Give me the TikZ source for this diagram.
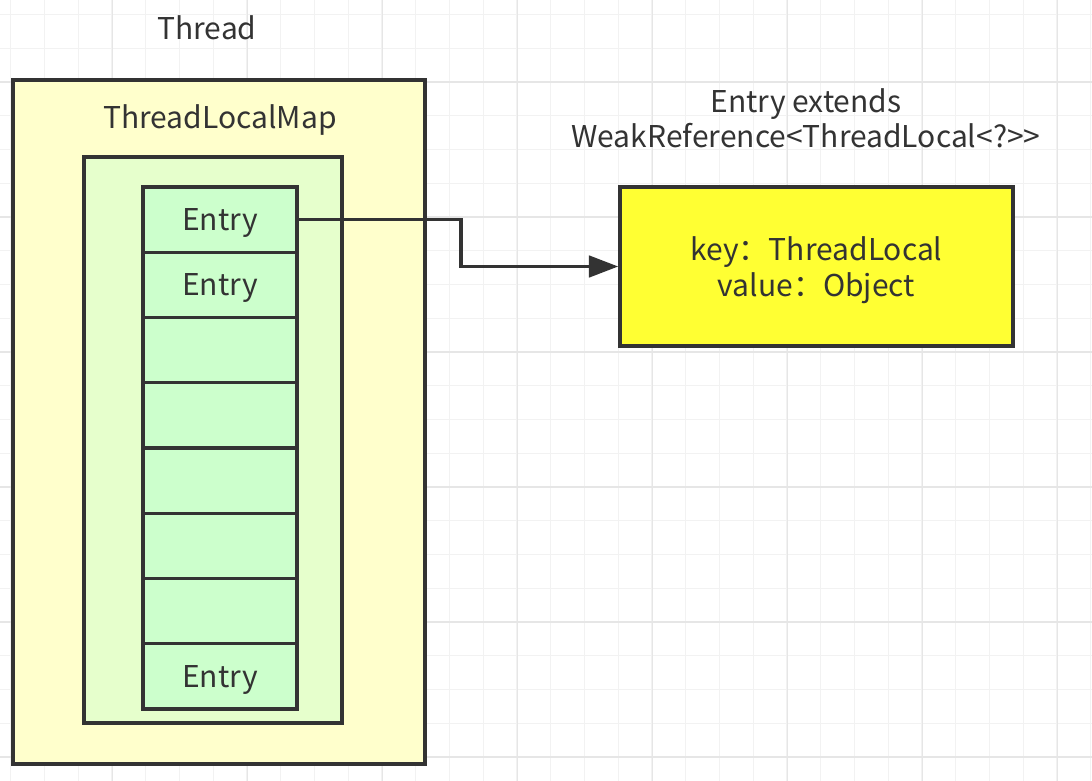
\documentclass[tikz,border=0pt]{standalone}
\usepackage{fontspec}
\setmainfont{Noto Sans CJK SC}
\usetikzlibrary{arrows.meta}

\definecolor{ink}{HTML}{333333}
\definecolor{gridminor}{HTML}{F2F2F2}
\definecolor{gridmajor}{HTML}{E6E6E6}
\definecolor{threadfill}{HTML}{FFFFCC}
\definecolor{mapfill}{HTML}{E6FFCC}
\definecolor{entryfill}{HTML}{CCFFCC}
\definecolor{objfill}{HTML}{FFFF33}

\tikzset{
  box/.style={draw=ink, line width=2.6pt, rectangle, inner sep=0pt, text depth=0pt},
  entrybox/.style={box, fill=entryfill, minimum width=115.5pt, minimum height=48.94pt},
  caption/.style={text=ink, font=\fontsize{22.5}{26.5}\selectfont},
  link/.style={draw=ink, line width=2.8pt, -{Triangle[length=22pt, width=16pt]}}
}

\begin{document}
\begin{tikzpicture}[x=0.75pt, y=-0.75pt]

    \useasboundingbox[fill=white] (0,0) rectangle (1092,781);

    % Grid
    \foreach \k in {0,...,32} {
      \draw[gridminor, line width=1pt] ({10.7+33.75*\k},0) -- ++(0,781);
    }
    \foreach \k in {0,...,23} {
      \draw[gridminor, line width=1pt] (0,{14.5+33.75*\k}) -- ++(1092,0);
    }
    \foreach \k in {0,...,8} {
      \draw[gridmajor, line width=1pt] ({112.2+135*\k},0) -- ++(0,781);
    }
    \foreach \k in {0,...,5} {
      \draw[gridmajor, line width=1pt] (0,{82+135*\k}) -- ++(1092,0);
    }

    % Boxes
    \node[box, fill=threadfill, minimum width=309pt, minimum height=513pt] (thread) at (219,422) {};
    \node[box, fill=mapfill, minimum width=193.5pt, minimum height=424.5pt] (map) at (213,440) {};
    \foreach \k/\txt in {1/Entry, 2/Entry, 3/, 4/, 5/, 6/, 7/, 8/Entry} {
      \node[entrybox, caption] (e\k) at (220,{187+65.25*(\k-0.5)}) {\txt};
    }
    \node[box, fill=objfill, minimum width=294.75pt, minimum height=119.25pt, caption, align=center] (obj) at (816.5,266.5) {key：ThreadLocal\\value：Object};

    % Labels
    \node[caption] (threadlbl) at (207,28) {Thread};
    \node[caption] (maplbl) at (220,120) {ThreadLocalMap};
    \node[caption, align=center] (objlbl) at (806,118.5) {Entry extends\\WeakReference<ThreadLocal<?>{}>};

    % Arrow
    \draw[link] (e1.east) -- ++(162,0) |- (obj.west);

\end{tikzpicture}
\end{document}
